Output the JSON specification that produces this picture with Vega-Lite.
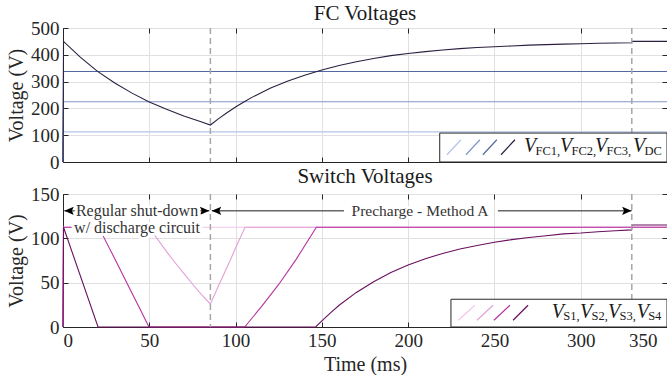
{
  "$schema": "https://vega.github.io/schema/vega-lite/v6.json",
  "background": "white",
  "padding": {"left": 6, "top": 2, "right": 0, "bottom": 0},
  "spacing": -8,
  "resolve": {"scale": {"color": "independent"}},
  "config": {
    "font": "Liberation Serif",
    "view": {"stroke": "#262626", "strokeWidth": 1},
    "axis": {
      "labelFont": "Liberation Serif", "labelFontSize": 19, "labelColor": "#262626",
      "titleFont": "Liberation Serif", "titleFontSize": 20, "titleFontWeight": "normal", "titleColor": "#262626",
      "domainColor": "#262626", "domainWidth": 1, "tickColor": "#262626", "tickSize": -5, "tickWidth": 1,
      "gridColor": "#e0e0e0", "gridWidth": 1, "labelPadding": 9
    },
    "title": {"font": "Liberation Serif", "fontSize": 21, "fontWeight": "normal", "color": "#1a1a1a", "frame": "group", "baseline": "alphabetic"}
  },
  "vconcat": [
    {
      "title": {"text": "FC Voltages", "offset": -5},
      "width": 604,
      "height": 134,
      "resolve": {"axis": {"x": "independent", "y": "independent"}},
      "layer": [
        {
          "data": {"values": [
            {"t": 0, "v": 0, "s": "VFC1"}, {"t": 0.3, "v": 112.5, "s": "VFC1"}, {"t": 350, "v": 112.5, "s": "VFC1"},
            {"t": 0, "v": 0, "s": "VFC2"}, {"t": 0.3, "v": 225, "s": "VFC2"}, {"t": 350, "v": 225, "s": "VFC2"},
            {"t": 0, "v": 0, "s": "VFC3"}, {"t": 0.3, "v": 337.5, "s": "VFC3"}, {"t": 350, "v": 337.5, "s": "VFC3"},
            {"t": 0, "v": 0, "s": "VDC"}, {"t": 0.3, "v": 450, "s": "VDC"}, {"t": 10, "v": 391, "s": "VDC"},
            {"t": 20, "v": 338, "s": "VDC"}, {"t": 30, "v": 295, "s": "VDC"}, {"t": 40, "v": 257, "s": "VDC"},
            {"t": 50, "v": 224, "s": "VDC"}, {"t": 60, "v": 197, "s": "VDC"}, {"t": 70, "v": 172, "s": "VDC"},
            {"t": 80, "v": 150, "s": "VDC"}, {"t": 85.4, "v": 138, "s": "VDC"}, {"t": 90, "v": 161, "s": "VDC"},
            {"t": 95, "v": 184, "s": "VDC"}, {"t": 100, "v": 205, "s": "VDC"}, {"t": 105, "v": 225, "s": "VDC"},
            {"t": 110, "v": 243, "s": "VDC"}, {"t": 120, "v": 275, "s": "VDC"}, {"t": 130, "v": 301, "s": "VDC"},
            {"t": 140, "v": 324, "s": "VDC"}, {"t": 150, "v": 343, "s": "VDC"}, {"t": 160, "v": 360, "s": "VDC"},
            {"t": 170, "v": 374, "s": "VDC"}, {"t": 180, "v": 386, "s": "VDC"}, {"t": 190, "v": 397, "s": "VDC"},
            {"t": 200, "v": 405, "s": "VDC"}, {"t": 210, "v": 412, "s": "VDC"}, {"t": 220, "v": 418, "s": "VDC"},
            {"t": 230, "v": 423, "s": "VDC"}, {"t": 240, "v": 427, "s": "VDC"}, {"t": 250, "v": 430, "s": "VDC"},
            {"t": 260, "v": 433, "s": "VDC"}, {"t": 270, "v": 436, "s": "VDC"}, {"t": 280, "v": 438, "s": "VDC"},
            {"t": 290, "v": 440, "s": "VDC"}, {"t": 300, "v": 441, "s": "VDC"}, {"t": 310, "v": 443, "s": "VDC"},
            {"t": 320, "v": 444, "s": "VDC"}, {"t": 329.5, "v": 445, "s": "VDC"}, {"t": 329.6, "v": 450, "s": "VDC"},
            {"t": 350, "v": 450, "s": "VDC"}
          ]},
          "mark": {"type": "line", "strokeWidth": 1.1},
          "encoding": {
            "x": {"field": "t", "type": "quantitative", "scale": {"domain": [0, 350], "nice": false},
                  "axis": {"orient": "bottom", "values": [0, 50, 100, 150, 200, 250, 300, 350], "labels": false, "title": null, "grid": true}},
            "y": {"field": "v", "type": "quantitative", "scale": {"domain": [0, 500], "nice": false},
                  "axis": {"orient": "left", "values": [0, 100, 200, 300, 400, 500], "title": "Voltage (V)", "grid": true}},
            "color": {"field": "s", "type": "nominal", "legend": null,
                      "scale": {"domain": ["VFC1", "VFC2", "VFC3", "VDC"], "range": ["#b3c3e8", "#8496c8", "#5468a0", "#2b1f3f"]}},
            "order": {"field": "t", "type": "quantitative"}
          }
        },
        {
          "data": {"values": [{"t": 85.4}, {"t": 329.6}]},
          "mark": {"type": "rule", "color": "#a6a6a6", "strokeDash": [6, 4], "strokeWidth": 1.5},
          "encoding": {"x": {"field": "t", "type": "quantitative", "axis": null}}
        },
        {
          "data": {"values": [{}]},
          "mark": {"type": "point", "opacity": 0},
          "encoding": {
            "x": {"datum": 0, "type": "quantitative", "axis": {"orient": "top", "values": [0, 50, 100, 150, 200, 250, 300, 350], "labels": false, "title": null, "grid": false, "domain": false}},
            "y": {"datum": 0, "type": "quantitative", "axis": {"orient": "right", "values": [0, 100, 200, 300, 400, 500], "labels": false, "title": null, "grid": false, "domain": false}}
          }
        },
        {
          "data": {"values": [{}]},
          "layer": [
            {"mark": {"type": "rect", "fill": "white", "stroke": "#262626", "strokeWidth": 1},
             "encoding": {"x": {"datum": 218.3, "type": "quantitative", "axis": null}, "x2": {"datum": 350},
                          "y": {"datum": 0, "type": "quantitative", "axis": null}, "y2": {"datum": 108}}},
            {"mark": {"type": "rule", "color": "#b3c3e8", "strokeWidth": 1.2},
             "encoding": {"x": {"datum": 222.5, "type": "quantitative", "axis": null}, "x2": {"datum": 230.6}, "y": {"datum": 27, "type": "quantitative", "axis": null}, "y2": {"datum": 83}}},
            {"mark": {"type": "rule", "color": "#8496c8", "strokeWidth": 1.2},
             "encoding": {"x": {"datum": 233.5, "type": "quantitative", "axis": null}, "x2": {"datum": 241.6}, "y": {"datum": 27, "type": "quantitative", "axis": null}, "y2": {"datum": 83}}},
            {"mark": {"type": "rule", "color": "#5468a0", "strokeWidth": 1.2},
             "encoding": {"x": {"datum": 243.3, "type": "quantitative", "axis": null}, "x2": {"datum": 251.4}, "y": {"datum": 27, "type": "quantitative", "axis": null}, "y2": {"datum": 83}}},
            {"mark": {"type": "rule", "color": "#2b1f3f", "strokeWidth": 1.2},
             "encoding": {"x": {"datum": 253.8, "type": "quantitative", "axis": null}, "x2": {"datum": 261.9}, "y": {"datum": 27, "type": "quantitative", "axis": null}, "y2": {"datum": 83}}},
            {"mark": {"type": "text", "text": "V", "fontStyle": "italic", "fontSize": 20, "align": "left", "baseline": "alphabetic", "color": "#1a1a1a"},
             "encoding": {"x": {"datum": 267.1, "type": "quantitative", "axis": null}, "y": {"datum": 38.4, "type": "quantitative", "axis": null}}},
            {"mark": {"type": "text", "text": "FC1,", "fontSize": 12.5, "align": "left", "baseline": "alphabetic", "dx": 11.5, "color": "#1a1a1a"},
             "encoding": {"x": {"datum": 267.1, "type": "quantitative", "axis": null}, "y": {"datum": 26, "type": "quantitative", "axis": null}}},
            {"mark": {"type": "text", "text": "V", "fontStyle": "italic", "fontSize": 20, "align": "left", "baseline": "alphabetic", "color": "#1a1a1a"},
             "encoding": {"x": {"datum": 288, "type": "quantitative", "axis": null}, "y": {"datum": 38.4, "type": "quantitative", "axis": null}}},
            {"mark": {"type": "text", "text": "FC2,", "fontSize": 12.5, "align": "left", "baseline": "alphabetic", "dx": 11.5, "color": "#1a1a1a"},
             "encoding": {"x": {"datum": 288, "type": "quantitative", "axis": null}, "y": {"datum": 26, "type": "quantitative", "axis": null}}},
            {"mark": {"type": "text", "text": "V", "fontStyle": "italic", "fontSize": 20, "align": "left", "baseline": "alphabetic", "color": "#1a1a1a"},
             "encoding": {"x": {"datum": 308.3, "type": "quantitative", "axis": null}, "y": {"datum": 38.4, "type": "quantitative", "axis": null}}},
            {"mark": {"type": "text", "text": "FC3,", "fontSize": 12.5, "align": "left", "baseline": "alphabetic", "dx": 11.5, "color": "#1a1a1a"},
             "encoding": {"x": {"datum": 308.3, "type": "quantitative", "axis": null}, "y": {"datum": 26, "type": "quantitative", "axis": null}}},
            {"mark": {"type": "text", "text": "V", "fontStyle": "italic", "fontSize": 20, "align": "left", "baseline": "alphabetic", "color": "#1a1a1a"},
             "encoding": {"x": {"datum": 330.3, "type": "quantitative", "axis": null}, "y": {"datum": 38.4, "type": "quantitative", "axis": null}}},
            {"mark": {"type": "text", "text": "DC", "fontSize": 12.5, "align": "left", "baseline": "alphabetic", "dx": 11.5, "color": "#1a1a1a"},
             "encoding": {"x": {"datum": 330.3, "type": "quantitative", "axis": null}, "y": {"datum": 26, "type": "quantitative", "axis": null}}}
          ]
        }
      ]
    },
    {
      "title": {"text": "Switch Voltages", "offset": -2},
      "width": 604,
      "height": 133,
      "resolve": {"axis": {"x": "independent", "y": "independent"}},
      "layer": [
        {
          "data": {"values": [
            {"t": 0, "v": 0, "s": "VS1"}, {"t": 0.3, "v": 112.5, "s": "VS1"}, {"t": 350, "v": 112.5, "s": "VS1"},
            {"t": 0, "v": 0, "s": "VS2"}, {"t": 0.3, "v": 112.5, "s": "VS2"}, {"t": 49.5, "v": 112.5, "s": "VS2"},
            {"t": 55, "v": 98.5, "s": "VS2"}, {"t": 60, "v": 85, "s": "VS2"}, {"t": 65, "v": 72.5, "s": "VS2"},
            {"t": 70, "v": 60.5, "s": "VS2"}, {"t": 75, "v": 48.5, "s": "VS2"}, {"t": 80, "v": 37, "s": "VS2"},
            {"t": 85.4, "v": 26, "s": "VS2"}, {"t": 90, "v": 46, "s": "VS2"}, {"t": 95, "v": 67, "s": "VS2"},
            {"t": 100, "v": 89, "s": "VS2"}, {"t": 105.5, "v": 112.5, "s": "VS2"}, {"t": 350, "v": 112.5, "s": "VS2"},
            {"t": 0, "v": 0, "s": "VS3"}, {"t": 0.3, "v": 112.5, "s": "VS3"}, {"t": 20.8, "v": 112.5, "s": "VS3"},
            {"t": 25, "v": 96, "s": "VS3"}, {"t": 30, "v": 77, "s": "VS3"}, {"t": 35, "v": 57.5, "s": "VS3"},
            {"t": 40, "v": 38, "s": "VS3"}, {"t": 45, "v": 19, "s": "VS3"}, {"t": 49.8, "v": 0, "s": "VS3"},
            {"t": 105.3, "v": 0, "s": "VS3"}, {"t": 115, "v": 23, "s": "VS3"}, {"t": 125, "v": 48, "s": "VS3"},
            {"t": 135, "v": 76, "s": "VS3"}, {"t": 146.8, "v": 112.5, "s": "VS3"}, {"t": 350, "v": 112.5, "s": "VS3"},
            {"t": 0, "v": 0, "s": "VS4"}, {"t": 0.3, "v": 112.5, "s": "VS4"}, {"t": 20.3, "v": 0, "s": "VS4"},
            {"t": 146.4, "v": 0, "s": "VS4"}, {"t": 150, "v": 7, "s": "VS4"}, {"t": 155, "v": 16, "s": "VS4"},
            {"t": 160, "v": 24.5, "s": "VS4"}, {"t": 170, "v": 39, "s": "VS4"}, {"t": 180, "v": 51, "s": "VS4"},
            {"t": 190, "v": 61.5, "s": "VS4"}, {"t": 200, "v": 70, "s": "VS4"}, {"t": 210, "v": 77, "s": "VS4"},
            {"t": 220, "v": 83, "s": "VS4"}, {"t": 230, "v": 88, "s": "VS4"}, {"t": 240, "v": 92, "s": "VS4"},
            {"t": 250, "v": 95.5, "s": "VS4"}, {"t": 260, "v": 98.5, "s": "VS4"}, {"t": 270, "v": 101, "s": "VS4"},
            {"t": 280, "v": 103, "s": "VS4"}, {"t": 290, "v": 105, "s": "VS4"}, {"t": 300, "v": 106, "s": "VS4"},
            {"t": 310, "v": 107.5, "s": "VS4"}, {"t": 320, "v": 108.5, "s": "VS4"}, {"t": 329.5, "v": 109.5, "s": "VS4"},
            {"t": 329.6, "v": 115, "s": "VS4"}, {"t": 350, "v": 115, "s": "VS4"}
          ]},
          "mark": {"type": "line", "strokeWidth": 1.1},
          "encoding": {
            "x": {"field": "t", "type": "quantitative", "scale": {"domain": [0, 350], "nice": false},
                  "axis": {"orient": "bottom", "values": [0, 50, 100, 150, 200, 250, 300, 350], "title": "Time (ms)", "grid": true,
                           "labelOffset": {"condition": {"test": "datum.value == 350", "value": -10}, "value": 0}}},
            "y": {"field": "v", "type": "quantitative", "scale": {"domain": [0, 150], "nice": false},
                  "axis": {"orient": "left", "values": [0, 50, 100, 150], "title": "Voltage (V)", "grid": true}},
            "color": {"field": "s", "type": "nominal", "legend": null,
                      "scale": {"domain": ["VS1", "VS2", "VS3", "VS4"], "range": ["#f4c6ea", "#e3a0d8", "#b5339e", "#6a0f5f"]}},
            "order": {"field": "t", "type": "quantitative"}
          }
        },
        {
          "data": {"values": [{"t": 85.4}, {"t": 329.6}]},
          "mark": {"type": "rule", "color": "#a6a6a6", "strokeDash": [6, 4], "strokeWidth": 1.5},
          "encoding": {"x": {"field": "t", "type": "quantitative", "axis": null}}
        },
        {
          "data": {"values": [{}]},
          "mark": {"type": "point", "opacity": 0},
          "encoding": {
            "x": {"datum": 0, "type": "quantitative", "axis": {"orient": "top", "values": [0, 50, 100, 150, 200, 250, 300, 350], "labels": false, "title": null, "grid": false, "domain": false}},
            "y": {"datum": 0, "type": "quantitative", "axis": {"orient": "right", "values": [0, 50, 100, 150], "labels": false, "title": null, "grid": false, "domain": false}}
          }
        },
        {
          "data": {"values": [{}]},
          "layer": [
            {"mark": {"type": "rule", "color": "#1a1a1a", "strokeWidth": 1},
             "encoding": {"x": {"datum": 0.75, "type": "quantitative", "axis": null}, "x2": {"datum": 8}, "y": {"datum": 131, "type": "quantitative", "axis": null}}},
            {"mark": {"type": "rule", "color": "#1a1a1a", "strokeWidth": 1},
             "encoding": {"x": {"datum": 78, "type": "quantitative", "axis": null}, "x2": {"datum": 84.8}, "y": {"datum": 131, "type": "quantitative", "axis": null}}},
            {"mark": {"type": "rule", "color": "#1a1a1a", "strokeWidth": 1},
             "encoding": {"x": {"datum": 86.2, "type": "quantitative", "axis": null}, "x2": {"datum": 162.8}, "y": {"datum": 131, "type": "quantitative", "axis": null}}},
            {"mark": {"type": "rule", "color": "#1a1a1a", "strokeWidth": 1},
             "encoding": {"x": {"datum": 252, "type": "quantitative", "axis": null}, "x2": {"datum": 329.5}, "y": {"datum": 131, "type": "quantitative", "axis": null}}},
            {"mark": {"type": "point", "shape": "M0,0L2,-0.85L1.6,0L2,0.85Z", "size": 90, "filled": true, "color": "#000000", "opacity": 1},
             "encoding": {"x": {"datum": 0.75, "type": "quantitative", "axis": null}, "y": {"datum": 131, "type": "quantitative", "axis": null}}},
            {"mark": {"type": "point", "shape": "M0,0L-2,-0.85L-1.6,0L-2,0.85Z", "size": 90, "filled": true, "color": "#000000", "opacity": 1},
             "encoding": {"x": {"datum": 84.8, "type": "quantitative", "axis": null}, "y": {"datum": 131, "type": "quantitative", "axis": null}}},
            {"mark": {"type": "point", "shape": "M0,0L2,-0.85L1.6,0L2,0.85Z", "size": 90, "filled": true, "color": "#000000", "opacity": 1},
             "encoding": {"x": {"datum": 86.2, "type": "quantitative", "axis": null}, "y": {"datum": 131, "type": "quantitative", "axis": null}}},
            {"mark": {"type": "point", "shape": "M0,0L-2,-0.85L-1.6,0L-2,0.85Z", "size": 90, "filled": true, "color": "#000000", "opacity": 1},
             "encoding": {"x": {"datum": 329.5, "type": "quantitative", "axis": null}, "y": {"datum": 131, "type": "quantitative", "axis": null}}},
            {"mark": {"type": "text", "fontSize": 16, "align": "center", "baseline": "middle", "lineHeight": 16.5, "color": "white", "stroke": "white", "strokeWidth": 6, "strokeJoin": "round"},
             "encoding": {"x": {"datum": 42.9, "type": "quantitative", "axis": null}, "y": {"datum": 130.5, "type": "quantitative", "axis": null},
                          "text": {"value": ["Regular shut-down", "w/ discharge circuit"]}}},
            {"mark": {"type": "text", "fontSize": 16, "align": "center", "baseline": "middle", "lineHeight": 16.5, "color": "#333333"},
             "encoding": {"x": {"datum": 42.9, "type": "quantitative", "axis": null}, "y": {"datum": 130.5, "type": "quantitative", "axis": null},
                          "text": {"value": ["Regular shut-down", "w/ discharge circuit"]}}},
            {"mark": {"type": "text", "fontSize": 15.5, "align": "center", "baseline": "middle", "color": "white", "stroke": "white", "strokeWidth": 6, "strokeJoin": "round"},
             "encoding": {"x": {"datum": 206.9, "type": "quantitative", "axis": null}, "y": {"datum": 131, "type": "quantitative", "axis": null},
                          "text": {"value": "Precharge - Method A"}}},
            {"mark": {"type": "text", "fontSize": 15.5, "align": "center", "baseline": "middle", "color": "#333333"},
             "encoding": {"x": {"datum": 206.9, "type": "quantitative", "axis": null}, "y": {"datum": 131, "type": "quantitative", "axis": null},
                          "text": {"value": "Precharge - Method A"}}},
            {"mark": {"type": "rect", "fill": "white", "stroke": "#262626", "strokeWidth": 1},
             "encoding": {"x": {"datum": 224.8, "type": "quantitative", "axis": null}, "x2": {"datum": 350},
                          "y": {"datum": 0, "type": "quantitative", "axis": null}, "y2": {"datum": 31.3}}},
            {"mark": {"type": "rule", "color": "#f4c6ea", "strokeWidth": 1.2},
             "encoding": {"x": {"datum": 229, "type": "quantitative", "axis": null}, "x2": {"datum": 238.7}, "y": {"datum": 7.6, "type": "quantitative", "axis": null}, "y2": {"datum": 24.5}}},
            {"mark": {"type": "rule", "color": "#e3a0d8", "strokeWidth": 1.2},
             "encoding": {"x": {"datum": 239.9, "type": "quantitative", "axis": null}, "x2": {"datum": 249.2}, "y": {"datum": 7.6, "type": "quantitative", "axis": null}, "y2": {"datum": 24.5}}},
            {"mark": {"type": "rule", "color": "#b5339e", "strokeWidth": 1.2},
             "encoding": {"x": {"datum": 249.7, "type": "quantitative", "axis": null}, "x2": {"datum": 259}, "y": {"datum": 7.6, "type": "quantitative", "axis": null}, "y2": {"datum": 24.5}}},
            {"mark": {"type": "rule", "color": "#6a0f5f", "strokeWidth": 1.2},
             "encoding": {"x": {"datum": 260.8, "type": "quantitative", "axis": null}, "x2": {"datum": 269.5}, "y": {"datum": 7.6, "type": "quantitative", "axis": null}, "y2": {"datum": 24.5}}},
            {"mark": {"type": "text", "text": "V", "fontStyle": "italic", "fontSize": 20, "align": "left", "baseline": "alphabetic", "color": "#1a1a1a"},
             "encoding": {"x": {"datum": 283.2, "type": "quantitative", "axis": null}, "y": {"datum": 10.6, "type": "quantitative", "axis": null}}},
            {"mark": {"type": "text", "text": "S1,", "fontSize": 12.5, "align": "left", "baseline": "alphabetic", "dx": 11.5, "color": "#1a1a1a"},
             "encoding": {"x": {"datum": 283.2, "type": "quantitative", "axis": null}, "y": {"datum": 7.6, "type": "quantitative", "axis": null}}},
            {"mark": {"type": "text", "text": "V", "fontStyle": "italic", "fontSize": 20, "align": "left", "baseline": "alphabetic", "color": "#1a1a1a"},
             "encoding": {"x": {"datum": 299.6, "type": "quantitative", "axis": null}, "y": {"datum": 10.6, "type": "quantitative", "axis": null}}},
            {"mark": {"type": "text", "text": "S2,", "fontSize": 12.5, "align": "left", "baseline": "alphabetic", "dx": 11.5, "color": "#1a1a1a"},
             "encoding": {"x": {"datum": 299.6, "type": "quantitative", "axis": null}, "y": {"datum": 7.6, "type": "quantitative", "axis": null}}},
            {"mark": {"type": "text", "text": "V", "fontStyle": "italic", "fontSize": 20, "align": "left", "baseline": "alphabetic", "color": "#1a1a1a"},
             "encoding": {"x": {"datum": 315.8, "type": "quantitative", "axis": null}, "y": {"datum": 10.6, "type": "quantitative", "axis": null}}},
            {"mark": {"type": "text", "text": "S3,", "fontSize": 12.5, "align": "left", "baseline": "alphabetic", "dx": 11.5, "color": "#1a1a1a"},
             "encoding": {"x": {"datum": 315.8, "type": "quantitative", "axis": null}, "y": {"datum": 7.6, "type": "quantitative", "axis": null}}},
            {"mark": {"type": "text", "text": "V", "fontStyle": "italic", "fontSize": 20, "align": "left", "baseline": "alphabetic", "color": "#1a1a1a"},
             "encoding": {"x": {"datum": 332.4, "type": "quantitative", "axis": null}, "y": {"datum": 10.6, "type": "quantitative", "axis": null}}},
            {"mark": {"type": "text", "text": "S4", "fontSize": 12.5, "align": "left", "baseline": "alphabetic", "dx": 11.5, "color": "#1a1a1a"},
             "encoding": {"x": {"datum": 332.4, "type": "quantitative", "axis": null}, "y": {"datum": 7.6, "type": "quantitative", "axis": null}}}
          ]
        }
      ]
    }
  ]
}
